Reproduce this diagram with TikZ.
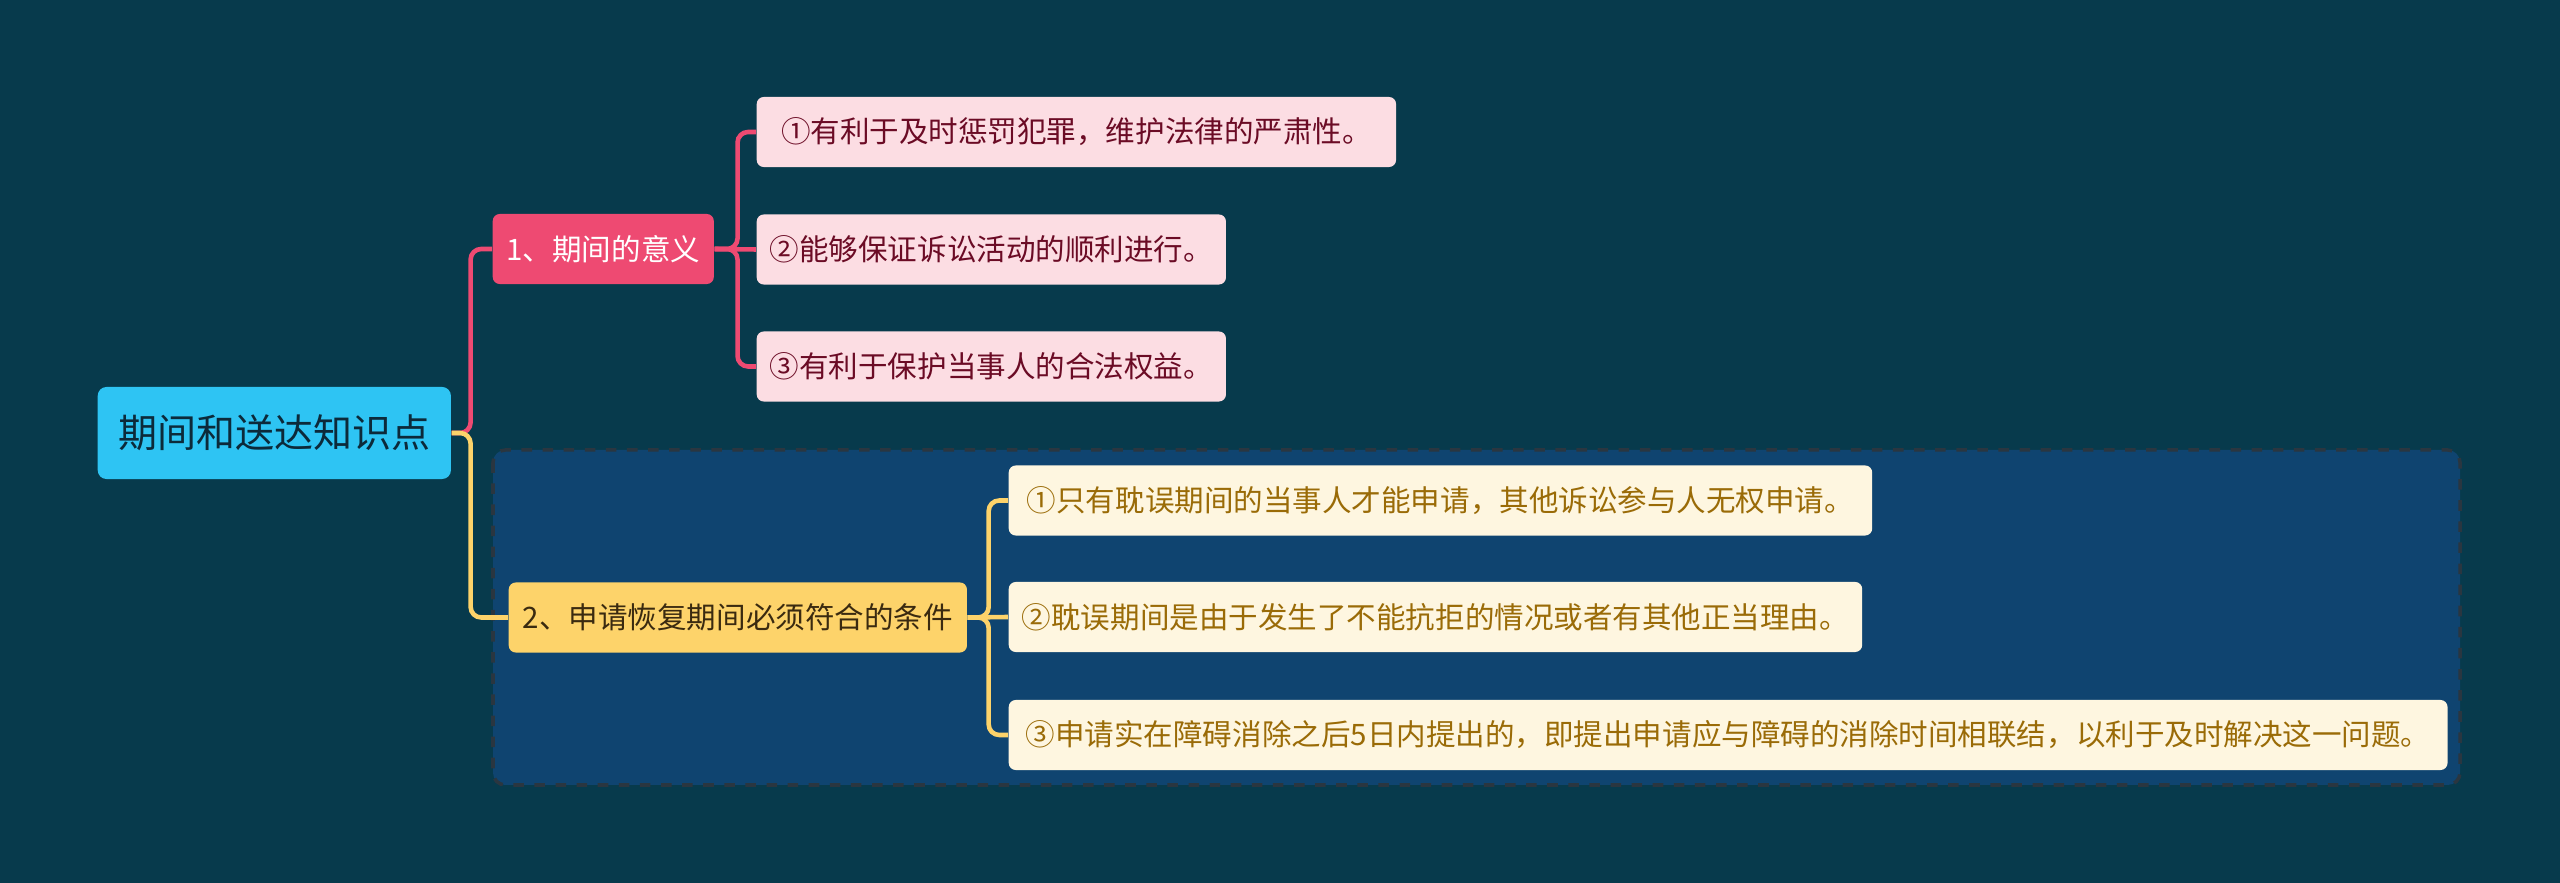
\documentclass[tikz,border=0pt]{standalone}
\usepackage{fontspec}
\setmainfont{Noto Sans CJK SC}
\usetikzlibrary{positioning}

\definecolor{bgTeal}{HTML}{073A4C}
\definecolor{grpFill}{HTML}{0F4470}
\definecolor{grpEdge}{HTML}{2A3640}
\definecolor{rootFill}{HTML}{2EC4F3}
\definecolor{rootText}{HTML}{0C2A3A}
\definecolor{pinkFill}{HTML}{EE4A72}
\definecolor{pinkLight}{HTML}{FCDDE3}
\definecolor{pinkText}{HTML}{6B0B25}
\definecolor{yellowFill}{HTML}{FDD36A}
\definecolor{yellowText}{HTML}{3A2A10}
\definecolor{creamFill}{HTML}{FEF6E0}
\definecolor{creamText}{HTML}{9A6B07}

\begin{document}
\begin{tikzpicture}[
  x=0.01cm, y=-0.01cm,
  topic/.style={rounded corners=2pt, anchor=west, minimum height=0.7cm,
    inner xsep=0pt, align=center, font=\fontsize{8.4pt}{10pt}\selectfont},
  rootbox/.style={topic, fill=rootFill, text=rootText, minimum height=0.92cm,
    rounded corners=2.5pt, font=\fontsize{11.1pt}{13pt}\selectfont},
  pinkbox/.style={topic, fill=pinkFill, text=white},
  pinkleaf/.style={topic, fill=pinkLight, text=pinkText},
  yellowbox/.style={topic, fill=yellowFill, text=yellowText},
  creamleaf/.style={topic, fill=creamFill, text=creamText},
  pinkline/.style={draw=pinkFill, line width=1.3pt, rounded corners=3pt},
  yellowline/.style={draw=yellowFill, line width=1.3pt, rounded corners=3pt}
]
% background and frame
\fill[bgTeal] (0,0) rectangle (2560,883);
\draw[fill=grpFill, draw=grpEdge, dashed, line width=1pt, rounded corners=3.5pt]
  (493,450) rectangle (2460,785);

% nodes
\node[rootbox, minimum width=3.53cm] (root) at (97,433) {期间和送达知识点};

\node[pinkbox, minimum width=2.21cm] (meaning) at (492,249) {1、期间的意义};
\node[pinkleaf, minimum width=6.39cm] (punish) at (756,132) {①有利于及时惩罚犯罪，维护法律的严肃性。};
\node[pinkleaf, minimum width=4.69cm] (smooth) at (756,249.5) {②能够保证诉讼活动的顺利进行。};
\node[pinkleaf, minimum width=4.69cm] (rights) at (756,366.5) {③有利于保护当事人的合法权益。};

\node[yellowbox, minimum width=4.58cm] (restore) at (508,617.5) {2、申请恢复期间必须符合的条件};
\node[creamleaf, minimum width=8.63cm] (party) at (1008,500.5) {①只有耽误期间的当事人才能申请，其他诉讼参与人无权申请。};
\node[creamleaf, minimum width=8.53cm] (reason) at (1008,617) {②耽误期间是由于发生了不能抗拒的情况或者有其他正当理由。};
\node[creamleaf, minimum width=14.38cm] (deadline) at (1008,735) {③申请实在障碍消除之后5日内提出的，即提出申请应与障碍的消除时间相联结，以利于及时解决这一问题。};

% connectors
\draw[pinkline] (root.east) -- ++(19,0) |- (meaning.west);
\draw[yellowline] (root.east) -- ++(19,0) |- (restore.west);
\draw[pinkline] (meaning.east) -- ++(23,0) |- (punish.west);
\draw[pinkline] (meaning.east) -- (smooth.west);
\draw[pinkline] (meaning.east) -- ++(23,0) |- (rights.west);
\draw[yellowline] (restore.east) -- ++(21,0) |- (party.west);
\draw[yellowline] (restore.east) -- (reason.west);
\draw[yellowline] (restore.east) -- ++(21,0) |- (deadline.west);
\end{tikzpicture}
\end{document}
